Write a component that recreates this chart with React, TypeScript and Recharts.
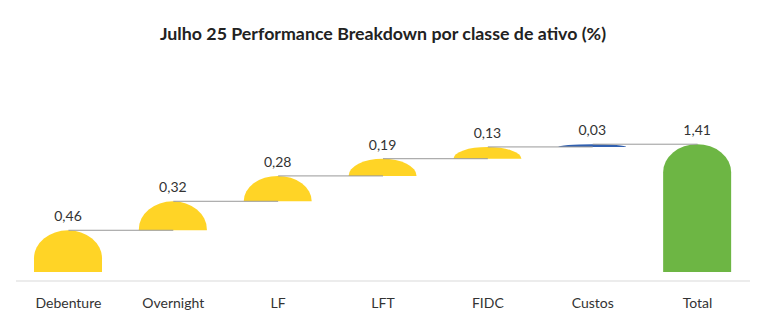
import React from 'react';
import { BarChart, Bar, XAxis, YAxis, LabelList, ReferenceLine, Cell } from 'recharts';

const TITLE = 'Julho 25 Performance Breakdown por classe de ativo (%)';
const categories = ['Debenture', 'Overnight', 'LF', 'LFT', 'FIDC', 'Custos', 'Total'];
const values = [0.46, 0.32, 0.28, 0.19, 0.13, 0.03, 1.41];
const kinds = ['increase', 'increase', 'increase', 'increase', 'increase', 'cost', 'total'];
const AXIS_MIN = -0.1;
const AXIS_MAX = 1.6;

const COLORS: Record<string, string> = {
  increase: '#FFD426',
  cost: '#3160B0',
  total: '#6DB644',
};

type Row = { name: string; range: number | [number, number]; amount: number; kind: string; end: number };

const rows: Row[] = (() => {
  let cum = 0;
  return categories.map((name, i) => {
    const v = values[i];
    const kind = kinds[i];
    if (kind === 'total') {
      return { name, range: v, amount: v, kind, end: v };
    }
    const start = cum;
    cum = +(cum + v).toFixed(4);
    const range: number | [number, number] = i === 0 ? cum : [start, cum];
    return { name, range, amount: v, kind, end: cum };
  });
})();

const fmt = (v: any) => (typeof v === 'number' ? v.toFixed(2).replace('.', ',') : v);

const RoundTop = (props: any) => {
  const { x, y, width, height, fill } = props;
  if (!height || height <= 0) return null;
  const rx = width / 2;
  const ry = Math.min(height, 28);
  const d = `M${x},${y + height} L${x},${y + ry} A${rx},${ry} 0 0 1 ${x + width},${y + ry} L${x + width},${y + height} Z`;
  return <path d={d} fill={fill} />;
};

const FONT = 'Lato, "Open Sans", sans-serif';

export default function App() {
  return (
    <div style={{ position: 'absolute', left: 0, top: 0, width: 783, height: 323, background: '#fff' }}>
      <div
        style={{
          position: 'absolute',
          left: 0,
          top: 21,
          width: 766,
          textAlign: 'center',
          fontFamily: FONT,
          fontWeight: 700,
          fontSize: 17.8,
          color: '#222',
          lineHeight: '24px',
        }}
      >
        {TITLE}
      </div>
      <BarChart
        width={783}
        height={323}
        data={rows}
        margin={{ top: 127, right: 33, bottom: 12, left: 16 }}
        baseValue="dataMin"
        barSize={68}
      >
        <XAxis
          dataKey="name"
          axisLine={{ stroke: '#d9d9d9' }}
          tickLine={false}
          tickMargin={11}
          height={30}
          tick={{ fill: '#333', fontSize: 14, fontFamily: FONT }}
        />
        <YAxis hide type="number" domain={[AXIS_MIN, AXIS_MAX]} />
        {rows.slice(0, -1).map((r, i) => (
          <ReferenceLine
            key={r.name}
            segment={[
              { x: r.name, y: r.end },
              { x: rows[i + 1].name, y: r.end },
            ]}
            stroke="#999999"
            strokeWidth={1}
            ifOverflow="visible"
          />
        ))}
        <Bar dataKey="range" shape={<RoundTop />} isAnimationActive={false}>
          {rows.map((r) => (
            <Cell key={r.name} fill={COLORS[r.kind]} />
          ))}
          <LabelList
            dataKey="amount"
            position="top"
            offset={9}
            formatter={fmt}
            style={{ fill: '#333', fontSize: 14, fontFamily: FONT }}
          />
        </Bar>
      </BarChart>
    </div>
  );
}
